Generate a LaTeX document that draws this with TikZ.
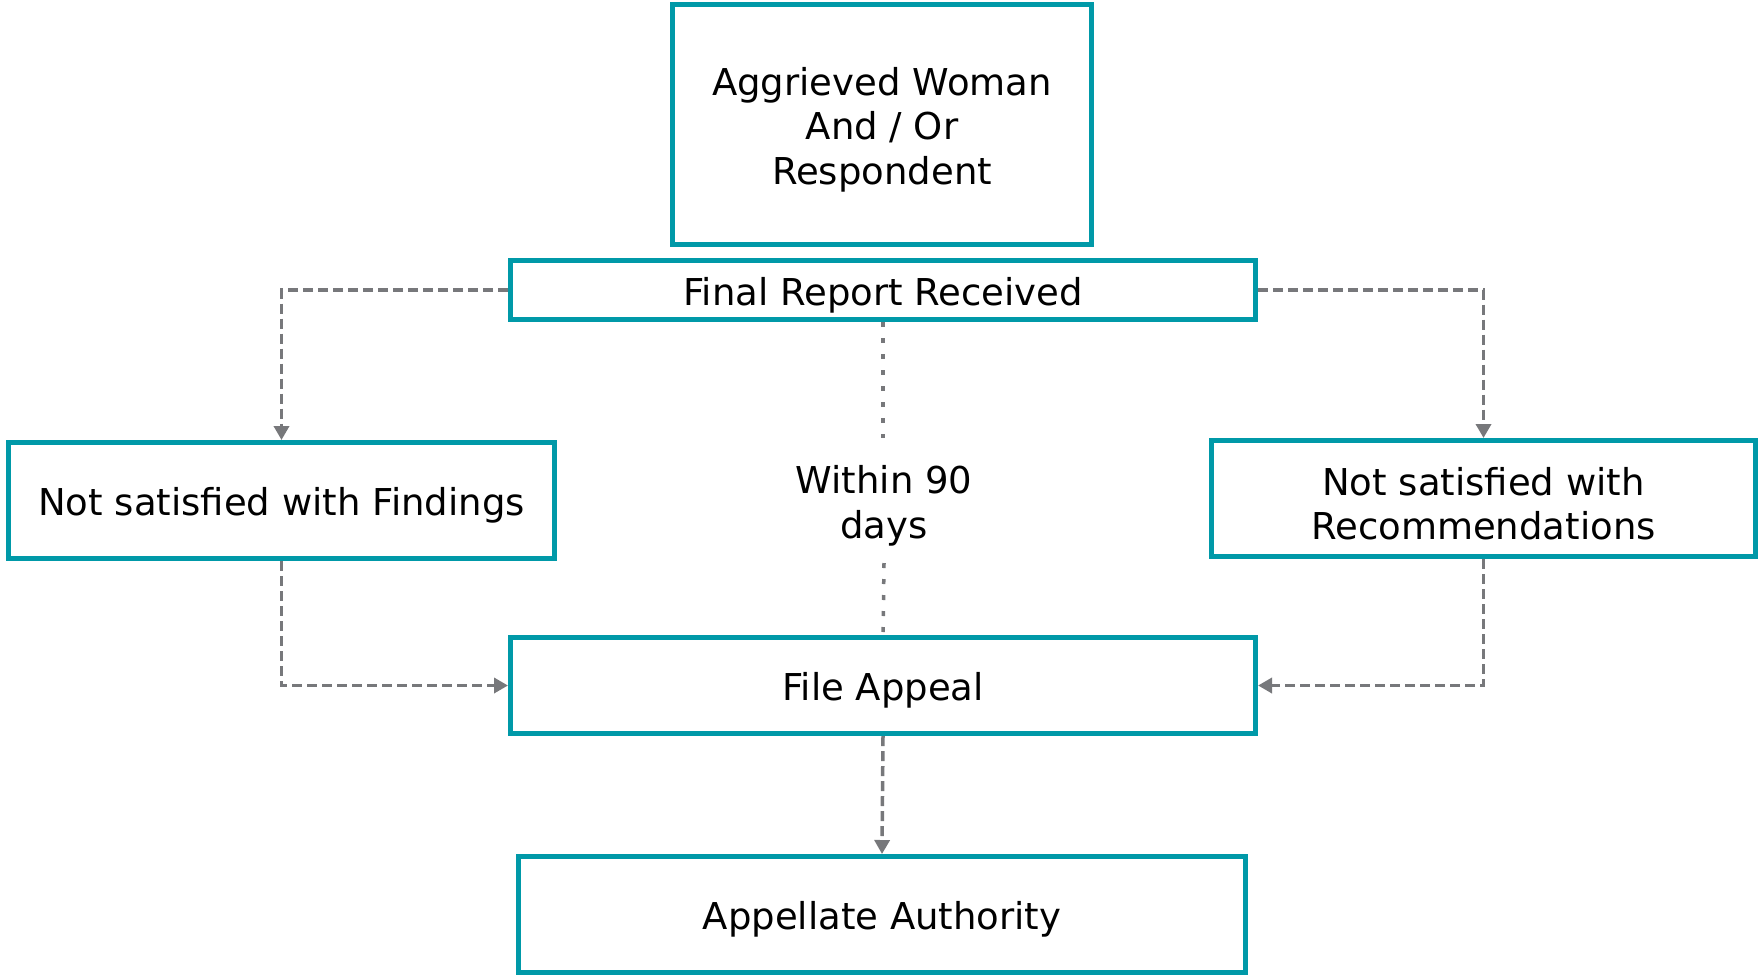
\documentclass[tikz,border=0pt]{standalone}
\usepackage{fontspec}
\setmainfont{DejaVu Sans}
\usetikzlibrary{arrows.meta}
\definecolor{teal}{RGB}{0,153,168}
\definecolor{conngray}{RGB}{119,120,123}
\tikzset{
  box/.style={draw=teal, line width=5pt, fill=white, rectangle, inner sep=0pt},
  txt/.style={align=center, inner sep=0pt, font=\fontsize{37}{44.5}\selectfont, yshift=-5pt},
  conn/.style={draw=conngray, line width=3.5pt, dash pattern=on 10pt off 5pt,
    -{Triangle[length=14pt,width=15pt]}},
  dotconn/.style={draw=conngray, line width=3.5pt, dash pattern=on 5pt off 11pt},
}
\begin{document}
\begin{tikzpicture}[x=1pt,y=-1pt]
\useasboundingbox (0,0) rectangle (1760,978);
\node[box, minimum width=419pt, minimum height=240pt,
  label={[txt]center:Aggrieved Woman\\And / Or\\Respondent}] (top) at (882,124.5) {};
\node[box, minimum width=745pt, minimum height=59pt,
  label={[txt]center:Final Report Received}] (fr) at (883,290) {};
\node[box, minimum width=546pt, minimum height=116pt,
  label={[txt]center:Not satisfied with Findings}] (lb) at (281.5,500.5) {};
\node[box, minimum width=544pt, minimum height=116pt,
  label={[txt]center:Not satisfied with\\Recommendations}] (rb) at (1483.5,498.5) {};
\node[box, minimum width=745pt, minimum height=96pt,
  label={[txt]center:File Appeal}] (fa) at (883,685.5) {};
\node[box, minimum width=727pt, minimum height=116pt,
  label={[txt]center:Appellate Authority}] (aa) at (882,914.5) {};
\node[txt] (w) at (884,501) {Within 90\\days};
\coordinate (d1) at (883,438);
\coordinate (d2) at (884,563);
\draw[conn] (fr.west) -| (lb.north);
\draw[conn] (fr.east) -| (rb.north);
\draw[conn] (lb.south) |- (fa.west);
\draw[conn] (rb.south) |- (fa.east);
\draw[conn] (fa.south) -- (aa.north);
\draw[dotconn] (fr.south) -- (d1);
\draw[dotconn] (d2) -- (fa.north);
\end{tikzpicture}
\end{document}
